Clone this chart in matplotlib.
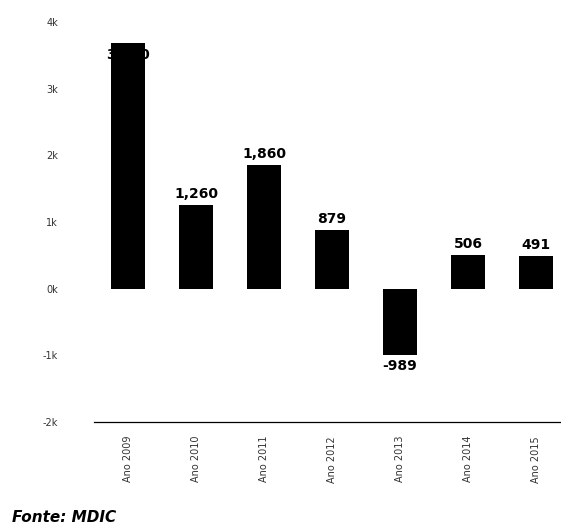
import matplotlib.pyplot as plt

anos = ["Ano 2009", "Ano 2010", "Ano 2011", "Ano 2012", "Ano 2013", "Ano 2014", "Ano 2015"]
saldo = [3690, 1260, 1860, 879, -989, 506, 491]
yticks = [-2000, -1000, 0, 1000, 2000, 3000, 4000]
ylabels = ["-2k", "-1k", "0k", "1k", "2k", "3k", "4k"]

W, H = 561, 528
fig = plt.figure(figsize=(W / 100, H / 100), dpi=100)
ax = fig.add_axes([94 / W, 106 / H, (W - 94) / W, 400 / H])

x = list(range(len(anos)))
ax.bar(x, saldo, width=0.49, color="black")

for i, v in enumerate(saldo):
    txt = f"{v:,}"
    if i == 0:
        # primeiro rotulo fica sobre a propria barra
        ax.text(i, v - 190, txt, ha="center", va="center", fontsize=10, fontweight="bold")
    elif v >= 0:
        ax.text(i, v + 60, txt, ha="center", va="bottom", fontsize=10, fontweight="bold")
    else:
        ax.text(i, v - 60, txt, ha="center", va="top", fontsize=10, fontweight="bold")

ax.set_xlim(-0.5, -0.5 + (W - 94) / 68)
ax.set_ylim(-2000, 4000)
ax.set_yticks(yticks)
ax.set_yticklabels(ylabels, fontsize=7, color="#333333")
ax.set_xticks(x)
ax.set_xticklabels(anos, rotation=90, fontsize=7, color="#333333")
ax.tick_params(axis="x", length=0, pad=10)
ax.tick_params(axis="y", length=0, pad=26)

for s in ["top", "right", "left"]:
    ax.spines[s].set_visible(False)
ax.spines["bottom"].set_linewidth(0.9)

fig.text(12 / W, 1 - 517 / H, "Fonte: MDIC", fontsize=11, fontweight="bold",
         fontstyle="italic", va="center", ha="left")

fig.savefig("out.png", dpi=100)
